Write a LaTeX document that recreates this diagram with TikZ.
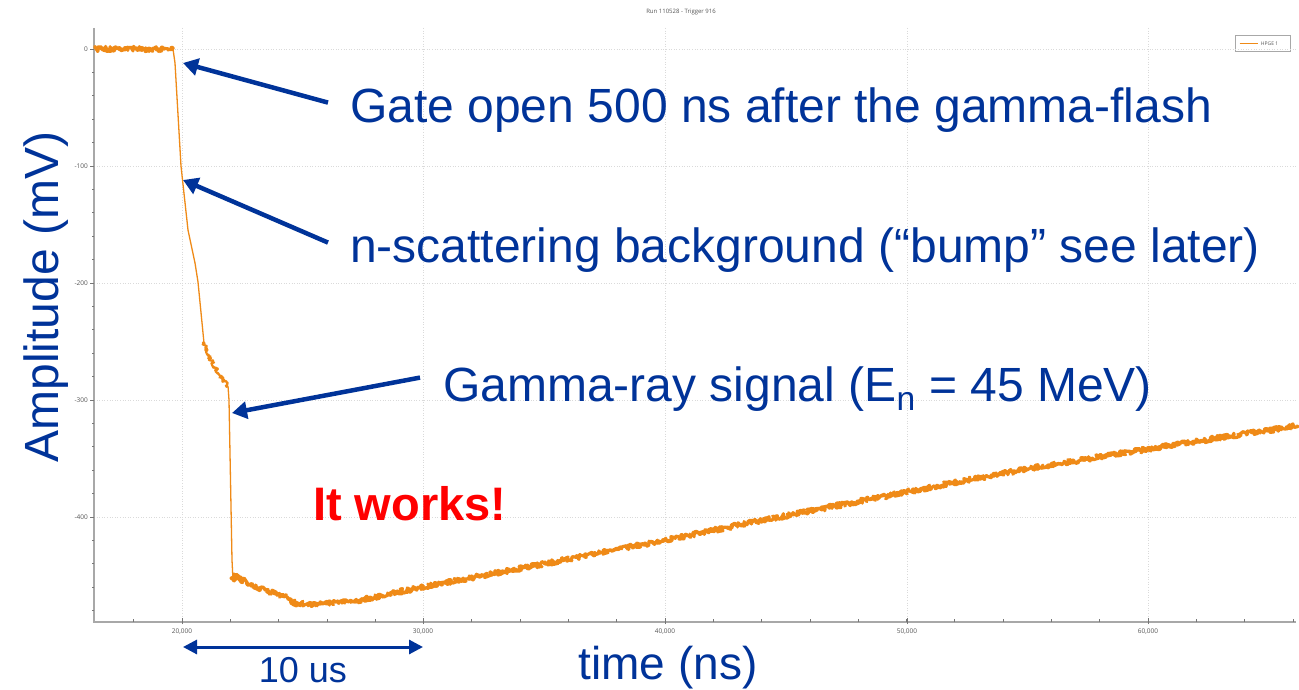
\documentclass[tikz,border=0pt]{standalone}
\usepackage{fontspec}
\setmainfont{Liberation Sans}
\newfontfamily\plotfont{Open Sans}
\usetikzlibrary{arrows.meta,positioning,calc,decorations.pathmorphing}
\definecolor{slideblue}{HTML}{003399}
\definecolor{wavegold}{HTML}{EF8A17}
\definecolor{axisgray}{HTML}{A8A8A8}
\definecolor{gridgray}{HTML}{DADADA}
\definecolor{ticktext}{HTML}{555555}
\tikzset{
    callout/.style={font=\fontsize{48}{50}\selectfont,text=slideblue,inner sep=0pt,anchor=base west},
    pointer/.style={draw=slideblue,line width=4.5pt,-{Triangle[length=15pt,width=17pt]}},
    spanarrow/.style={draw=slideblue,line width=3pt,{Triangle[length=14pt,width=14pt]}-{Triangle[length=14pt,width=14pt]}},
    ticklabel/.style={font=\plotfont\fontsize{6.5}{7}\selectfont,text=ticktext,inner sep=1pt},
    gridline/.style={draw=gridgray,dotted,line width=0.6pt},
    axisline/.style={draw=axisgray,line width=1.6pt},
    tickmark/.style={draw=axisgray!70!black,line width=0.8pt},
    noisy/.style={draw=wavegold,decorate,decoration={random steps,segment length=0.8pt,amplitude=2.6pt},line width=3.2pt,line join=round},
    fast/.style={draw=wavegold,line width=1.3pt,line join=round},
}

\begin{document}
\begin{tikzpicture}[x=1pt,y=-1pt]
    \useasboundingbox[fill=white] (0,0) rectangle (1299,690);

    % title and legend of the scope window
    \node[font=\plotfont\fontsize{6}{7}\selectfont,text=ticktext] (title) at (681,12) {Run 110528 - Trigger 916};
    \node[draw=axisgray,line width=0.6pt,minimum width=55pt,minimum height=16pt,inner sep=0pt] (legend) at (1262.5,43.5) {};
    \draw[draw=wavegold,line width=1.4pt] ([xshift=5pt]legend.west) -- ++(18,0) coordinate (legline);
    \node[right=3pt of legline,inner sep=0pt,font=\plotfont\fontsize{5}{6}\selectfont,text=ticktext] (legtext) {HPGE 1};

    % grid
    \foreach \gx in {182,423,665,907,1148}
        \draw[gridline] (\gx,28) -- (\gx,622);
    \foreach \gy in {49,166,283,400,517}
        \draw[gridline] (94,\gy) -- (1296,\gy);

    % axes and ticks
    \draw[axisline] (94,28) -- (94,622) -- (1296,622);
    \foreach \i in {-1,...,23}
        \draw[tickmark] ({182+\i*48.3},622) -- ++(0,-3);
    \foreach \j in {0,...,24}
        \draw[tickmark] (94,{49+\j*23.4}) -- ++(-2.5,0);
    \foreach \gx/\lab in {182/{20,000},423/{30,000},665/{40,000},907/{50,000},1148/{60,000}} {
        \draw[tickmark] (\gx,624) -- ++(0,-6);
        \node[ticklabel] at (\gx,632) {\lab};
    }
    \foreach \gy/\lab in {49/0,166/-100,283/-200,400/-300,517/-400} {
        \draw[tickmark] (94,\gy) -- ++(-4,0);
        \node[ticklabel,anchor=east] at (89,\gy) {\lab};
    }

    % waveform
    \draw[noisy] (95,49) -- (173,49);
    \draw[fast] (173,49) -- (175,63) -- (181,166) -- (188,230) -- (195,263) -- (198,282) -- (204,343);
    \draw[noisy,line width=2.2pt,decoration={amplitude=1.8pt}] (204,343) .. controls (210,362) and (220,376) .. (228,386);
    \draw[fast] (228,386) -- (229,400) -- (232,560) -- (233,580);
    \draw[noisy] plot[smooth,tension=0.5] coordinates {(233,580) (237,576) (247,583) (270,592) (287,597) (296,603) (320,604) (360,600) (423,587) (600,553) (800,513) (1000,474) (1148,449) (1296,426)};

    % callouts
    \node[callout] (gate) at (350,123) {Gate open 500 ns after the gamma-flash};
    \node[callout] (bkg) at (350,262) {n-scattering background (“bump” see later)};
    \node[callout] (sig) at (443,401) {Gamma-ray signal (E\textsubscript{n} = 45 MeV)};
    \node[callout,text=red,font=\fontsize{47}{50}\selectfont\bfseries] (works) at (313,520) {It works!};

    \coordinate (gateat) at (183,63);
    \coordinate (bkgat) at (183,180);
    \coordinate (sigat) at (232,413);
    \draw[pointer] ([xshift=-22pt,yshift=8pt]gate.west) -- (gateat);
    \draw[pointer] ([xshift=-22pt,yshift=7pt]bkg.west) -- (bkgat);
    \draw[pointer] ([xshift=-23pt,yshift=11pt]sig.west) -- (sigat);

    % 10 us span and axis titles
    \coordinate (spanl) at (183,647);
    \coordinate (spanr) at (423,647);
    \draw[spanarrow] (spanl) -- (spanr);
    \node[font=\fontsize{36}{38}\selectfont,text=slideblue,inner sep=0pt,anchor=base] (tenus) at (303,682) {10 us};
    \node[font=\fontsize{46}{48}\selectfont,text=slideblue,inner sep=0pt,anchor=base] (xlabel) at (668,679) {time (ns)};
    \node[font=\fontsize{48}{50}\selectfont,text=slideblue,inner sep=0pt,anchor=base,rotate=90] (ylabel) at (58,297) {Amplitude (mV)};
\end{tikzpicture}
\end{document}
